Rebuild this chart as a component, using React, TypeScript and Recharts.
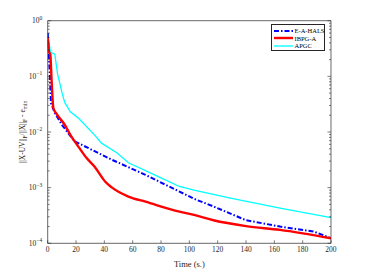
import React from 'react';
import { LineChart, Line, XAxis, YAxis } from 'recharts';

const haTime = [0, 1, 2.3, 5, 10, 15, 19, 29, 45, 69, 93, 104, 117, 140, 164, 188, 200];
const haValue = [0.6, 0.2, 0.033, 0.022, 0.0135, 0.0092, 0.0068, 0.0051, 0.0032, 0.0017, 0.00085, 0.00062, 0.00046, 0.00026, 0.0002, 0.000162, 0.000123];

const ibTime = [0, 1, 1.8, 2.8, 4, 6.4, 12, 16, 22, 27.5, 33, 40.5, 45, 57, 69, 93, 104, 117, 140, 164, 200];
const ibValue = [0.5, 0.27, 0.25, 0.08, 0.027, 0.021, 0.0135, 0.0089, 0.0053, 0.0034, 0.0024, 0.00129, 0.00102, 0.00069, 0.00056, 0.00037, 0.00032, 0.00026, 0.000204, 0.000174, 0.000123];

const apTime = [0, 2, 5, 7, 10, 12, 16, 22, 33, 38, 49, 57, 80, 93, 104, 129, 164, 200];
const apValue = [0.59, 0.27, 0.25, 0.11, 0.052, 0.034, 0.023, 0.0175, 0.0089, 0.0063, 0.0042, 0.0028, 0.0015, 0.00105, 0.00089, 0.00065, 0.00043, 0.00029];

const xTicks = [0, 20, 40, 60, 80, 100, 120, 140, 160, 180, 200];
const decadeExponents = [-4, -3, -2, -1, 0];
const minorSteps = [1, 2, 3, 4, 5, 6, 7, 8, 9];

const seriesNames = ['E-A-HALS', 'IBPG-A', 'APGC'];

const toPoints = (t: number[], v: number[]) => t.map((x, i) => ({ t: x, v: v[i] }));
const haData = toPoints(haTime, haValue);
const ibData = toPoints(ibTime, ibValue);
const apData = toPoints(apTime, apValue);

const yTicks: number[] = [];
decadeExponents.forEach((e) => {
  if (e === 0) { yTicks.push(1); return; }
  minorSteps.forEach((m) => yTicks.push(parseFloat((m * Math.pow(10, e)).toPrecision(6))));
});

const AXIS = '#262626';
const FONT = '"Liberation Serif", "DejaVu Serif", serif';
const LEFT_MARGIN = 5;

const seriesStyles = [
  { name: seriesNames[0], color: '#0000ff', width: 2, dash: '5 2 1.5 2' },
  { name: seriesNames[1], color: '#ff0000', width: 2.4, dash: undefined as string | undefined },
  { name: seriesNames[2], color: '#00ffff', width: 1.3, dash: undefined as string | undefined },
];

const isDecade = (v: number) => {
  const l = Math.log10(v);
  return Math.abs(l - Math.round(l)) < 1e-6;
};

const LeftTick = (props: any) => {
  const { x, y, payload } = props;
  const v = payload.value;
  const major = isDecade(v);
  const ax = x + LEFT_MARGIN;
  const exp = Math.round(Math.log10(v));
  return (
    <g>
      <line x1={ax} x2={ax + (major ? 3.5 : 2)} y1={y} y2={y} stroke={AXIS} strokeWidth={0.6} />
      {major && (
        <text x={x - 0.5} y={y + 2.5} textAnchor="end" fontFamily={FONT} fontSize={7.5} fill={AXIS}>
          <tspan>10</tspan>
          <tspan dy={-3.5} fontSize={5.5}>{exp === 0 ? '0' : '\u2212' + Math.abs(exp)}</tspan>
        </text>
      )}
    </g>
  );
};

const RightTick = (props: any) => {
  const { x, y, payload } = props;
  const major = isDecade(payload.value);
  return <line x1={x} x2={x - (major ? 3.5 : 2)} y1={y} y2={y} stroke={AXIS} strokeWidth={0.6} />;
};

const BottomTick = (props: any) => {
  const { x, y, payload } = props;
  const ay = y - 2;
  return (
    <g>
      <line x1={x} x2={x} y1={ay} y2={ay - 3} stroke={AXIS} strokeWidth={0.6} />
      <text x={x} y={y + 6.8} textAnchor="middle" fontFamily={FONT} fontSize={7.5} fill={AXIS}>{payload.value}</text>
    </g>
  );
};

const TopTick = (props: any) => {
  const { x, y } = props;
  return <line x1={x} x2={x} y1={y} y2={y + 3} stroke={AXIS} strokeWidth={0.6} />;
};

const LegendBox = () => (
  <div style={{ position: 'absolute', left: 271, top: 24, width: 54, height: 27, boxSizing: 'border-box', background: '#fff', border: '0.7px solid #262626', padding: '2px 1px', fontFamily: FONT, fontSize: 6.5, color: '#000', lineHeight: '7.5px', whiteSpace: 'nowrap' }}>
    {seriesStyles.map((s, i) => (
      <div key={i} style={{ display: 'flex', alignItems: 'center', height: 7.6 }}>
        <svg width={21} height={6} style={{ marginRight: 0.5, flex: 'none' }}>
          <line x1={1} x2={20} y1={3} y2={3} stroke={s.color} strokeWidth={s.width} strokeDasharray={s.dash} />
        </svg>
        <span>{s.name}</span>
      </div>
    ))}
  </div>
);

export default function App() {
  return (
    <div style={{ position: 'absolute', left: 0, top: 0, width: 366, height: 274, background: '#fff' }}>
      <LineChart width={366} height={274} margin={{ top: 20.7, right: 35, bottom: 0, left: 0 }}>
        <XAxis xAxisId="b" dataKey="t" type="number" domain={[0, 200]} ticks={xTicks} allowDataOverflow interval={0}
          height={30.7} tickSize={0} tickMargin={2} tickLine={false} tick={<BottomTick />}
          axisLine={{ stroke: AXIS, strokeWidth: 0.7 }}
          label={{ value: 'Time (s.)', position: 'insideBottom', offset: 7, fontFamily: FONT, fontSize: 8.5, fill: AXIS }} />
        <XAxis xAxisId="top" orientation="top" dataKey="t" type="number" domain={[0, 200]} ticks={xTicks} interval={0}
          height={0.01} tickSize={0} tickMargin={0} tickLine={false} tick={<TopTick />}
          axisLine={{ stroke: AXIS, strokeWidth: 0.7 }} />
        <YAxis yAxisId="l" scale="log" type="number" domain={[0.0001, 1]} ticks={yTicks} allowDataOverflow
          width={47.7} tickSize={0} tickMargin={LEFT_MARGIN} tickLine={false} tick={<LeftTick />} interval={0}
          axisLine={{ stroke: AXIS, strokeWidth: 0.7 }} />
        <YAxis yAxisId="r" orientation="right" scale="log" type="number" domain={[0.0001, 1]} ticks={yTicks}
          allowDataOverflow width={0.01} tickSize={0} tickMargin={0} tickLine={false} tick={<RightTick />} interval={0}
          axisLine={{ stroke: AXIS, strokeWidth: 0.7 }} />
        <Line xAxisId="b" yAxisId="l" data={apData} dataKey="v" name={seriesStyles[2].name} stroke={seriesStyles[2].color}
          strokeWidth={seriesStyles[2].width} dot={false} isAnimationActive={false} type="linear" />
        <Line xAxisId="b" yAxisId="l" data={haData} dataKey="v" name={seriesStyles[0].name} stroke={seriesStyles[0].color}
          strokeWidth={seriesStyles[0].width} strokeDasharray={seriesStyles[0].dash} dot={false} isAnimationActive={false} type="linear" />
        <Line xAxisId="b" yAxisId="l" data={ibData} dataKey="v" name={seriesStyles[1].name} stroke={seriesStyles[1].color}
          strokeWidth={seriesStyles[1].width} dot={false} isAnimationActive={false} type="monotone" />
      </LineChart>
      <LegendBox />
      <div style={{ position: 'absolute', left: 23, top: 132, transform: 'translate(-50%, -50%) rotate(-90deg)', whiteSpace: 'nowrap', fontFamily: FONT, fontSize: 7.5, color: AXIS }}>
        ||X-UV||<sub style={{ fontSize: 5.5 }}>F</sub>/||X||<sub style={{ fontSize: 5.5 }}>F</sub> - e<sub style={{ fontSize: 5.5 }}>min</sub>
      </div>
    </div>
  );
}
